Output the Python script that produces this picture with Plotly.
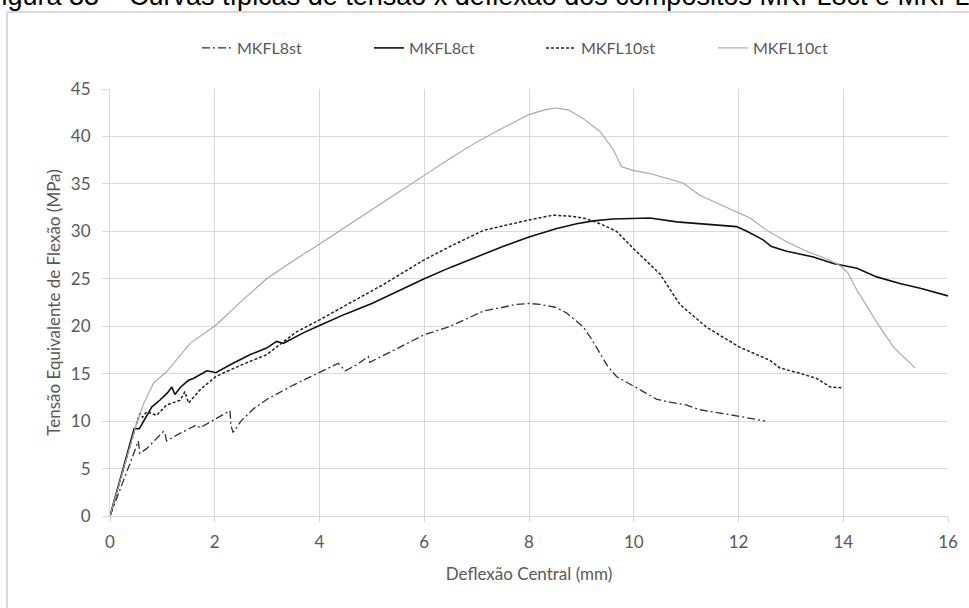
import plotly.graph_objects as go

# Deflexão central (mm) x tensão equivalente de flexão (MPa)
mkfl8st_x = [0, 0.2, 0.4, 0.54, 0.57, 0.7, 0.85, 1.02, 1.05, 1.08, 1.3, 1.5, 1.65, 1.72, 1.9, 2.1,
             2.29, 2.31, 2.35, 2.5, 2.74, 3.0, 3.5, 4.01, 4.36, 4.49, 4.7, 4.93, 4.96, 5.5, 6.0, 6.5,
             7.13, 7.5, 7.76, 8.0, 8.21, 8.5, 8.72, 9.04, 9.2, 9.36, 9.5, 9.67, 10.02, 10.44, 10.69,
             11.0, 11.26, 11.6, 12.02, 12.51]
mkfl8st_y = [0, 2.8, 5.8, 7.9, 6.6, 7.1, 7.9, 8.9, 8.7, 7.9, 8.6, 9.2, 9.6, 9.3, 9.9, 10.5,
             11.1, 9.5, 8.8, 10.0, 11.3, 12.3, 13.8, 15.2, 16.1, 15.3, 15.9, 16.8, 16.2, 17.7, 19.1, 20.0,
             21.6, 22.0, 22.3, 22.4, 22.3, 22.0, 21.4, 19.9, 18.6, 17.1, 15.8, 14.7, 13.6, 12.3, 12.0,
             11.7, 11.2, 10.9, 10.5, 10.0]

mkfl8ct_x = [0, 0.46, 0.56, 0.67, 0.8, 0.95, 1.1, 1.18, 1.24, 1.35, 1.5, 1.59, 1.85, 1.95, 2.02,
             2.35, 2.67, 2.99, 3.18, 3.31, 3.45, 3.69, 4.01, 4.5, 5.0, 5.5, 6.0, 6.5, 7.0, 7.5, 8.0,
             8.53, 8.91, 9.23, 9.6, 10.01, 10.31, 10.82, 11.26, 11.58, 11.96, 12.16, 12.47, 12.63,
             12.92, 13.43, 13.81, 14.26, 14.64, 15.08, 15.47, 16.0]
mkfl8ct_y = [0, 9.2, 9.2, 10.3, 11.5, 12.2, 13.0, 13.6, 12.8, 13.6, 14.3, 14.5, 15.3, 15.2, 15.1,
             16.1, 17.0, 17.7, 18.4, 18.2, 18.6, 19.3, 20.1, 21.3, 22.4, 23.7, 25.0, 26.2, 27.3, 28.4, 29.4,
             30.3, 30.8, 31.1, 31.3, 31.4, 31.4, 31.0, 30.8, 30.7, 30.5, 30.0, 29.1, 28.4,
             27.9, 27.3, 26.6, 26.1, 25.2, 24.5, 24.0, 23.2]

mkfl10st_x = [0, 0.41, 0.51, 0.57, 0.62, 0.7, 0.89, 1.08, 1.34, 1.43, 1.47, 1.5, 1.72, 2.02, 2.5,
              2.99, 3.44, 3.56, 4.01, 4.5, 4.9, 5.22, 6.0, 6.49, 7.13, 7.5, 8.0, 8.46, 8.8, 9.04,
              9.36, 9.67, 10.01, 10.5, 10.88, 11.39, 12.02, 12.6, 12.79, 13.2, 13.49, 13.75, 14.0]
mkfl10st_y = [0, 8.0, 9.8, 10.8, 10.4, 11.0, 10.6, 11.7, 12.2, 13.1, 12.5, 11.9, 13.3, 14.7, 15.9,
              17.0, 18.9, 19.4, 20.7, 22.2, 23.5, 24.4, 27.0, 28.4, 30.1, 30.6, 31.2, 31.7, 31.6, 31.4,
              30.8, 30.0, 28.1, 25.5, 22.3, 19.9, 17.8, 16.4, 15.6, 15.0, 14.5, 13.6, 13.5]

mkfl10ct_x = [0, 0.3, 0.51, 0.64, 0.83, 1.08, 1.3, 1.53, 2.02, 2.5, 2.99, 3.5, 4.01, 4.5, 5.0, 5.5,
              6.0, 6.5, 7.0, 7.5, 8.0, 8.3, 8.5, 8.75, 9.03, 9.36, 9.61, 9.77, 10.0, 10.31, 10.94,
              11.26, 11.46, 12.0, 12.22, 12.54, 12.92, 13.3, 13.68, 13.94, 14.09, 14.26, 14.45, 14.7,
              14.96, 15.37]
mkfl10ct_y = [0, 5.7, 9.8, 11.8, 14.0, 15.2, 16.7, 18.2, 20.1, 22.6, 25.0, 26.9, 28.7, 30.5, 32.3, 34.1,
              35.9, 37.7, 39.4, 40.9, 42.3, 42.8, 43.0, 42.8, 41.9, 40.5, 38.6, 36.8, 36.4, 36.1, 35.1,
              33.8, 33.3, 31.9, 31.4, 30.1, 28.9, 27.9, 27.1, 26.4, 25.6, 23.8, 22.1, 19.9,
              17.8, 15.6]

x_ticks = [0, 2, 4, 6, 8, 10, 12, 14, 16]
y_ticks = [0, 5, 10, 15, 20, 25, 30, 35, 40, 45]

W, H = 969, 608
ML, MR, MT, MB = 110, 21, 89, 92
PW, PH = W - ML - MR, H - MT - MB


def px_x(p):
    return (p - ML) / PW


def px_y(p):
    return (H - MB - p) / PH


FONT = "Lato, 'Open Sans', sans-serif"
GRID = "#d9d9d9"
TXT = "#595959"

fig = go.Figure()
fig.add_trace(go.Scatter(x=mkfl8st_x, y=mkfl8st_y, name="MKFL8st", mode="lines",
                         line=dict(color="#333333", width=1.3, dash="8px,3px,2px,3px")))
fig.add_trace(go.Scatter(x=mkfl8ct_x, y=mkfl8ct_y, name="MKFL8ct", mode="lines",
                         line=dict(color="#111111", width=1.6)))
fig.add_trace(go.Scatter(x=mkfl10st_x, y=mkfl10st_y, name="MKFL10st", mode="lines",
                         line=dict(color="#222222", width=1.5, dash="3px,2px")))
fig.add_trace(go.Scatter(x=mkfl10ct_x, y=mkfl10ct_y, name="MKFL10ct", mode="lines",
                         line=dict(color="#a6a6a6", width=1.1)))

fig.update_layout(
    width=W, height=H, autosize=False,
    margin=dict(l=ML, r=MR, t=MT, b=MB),
    paper_bgcolor="white", plot_bgcolor="white",
    font=dict(family=FONT, color=TXT, size=17),
    showlegend=True,
    legend=dict(orientation="h", x=px_x(197), y=px_y(48), xanchor="left", yanchor="middle",
                font=dict(size=16, color=TXT), entrywidth=127, entrywidthmode="pixels",
                bgcolor="rgba(0,0,0,0)"),
    xaxis=dict(range=[0, 16], tickvals=x_ticks, showgrid=True, gridcolor=GRID, gridwidth=1,
               zeroline=False, showline=True, linecolor=GRID, linewidth=1,
               ticks="outside", ticklen=5, tickcolor=GRID, ticklabelstandoff=6,
               tickfont=dict(size=17, color=TXT),
               title=dict(text="Deflexão Central (mm)", font=dict(size=17, color=TXT), standoff=16)),
    yaxis=dict(range=[0, 45], tickvals=y_ticks, showgrid=True, gridcolor=GRID, gridwidth=1,
               zeroline=False, showline=True, linecolor=GRID, linewidth=1,
               ticks="outside", ticklen=7, tickcolor=GRID, ticklabelstandoff=8,
               tickfont=dict(size=17, color=TXT),
               title=dict(text="Tensão Equivalente de Flexão (MPa)",
                          font=dict(size=17, color=TXT), standoff=5)),
)

# chart frame (top and left edges)
fig.add_shape(type="line", xref="paper", yref="paper",
              x0=px_x(7), x1=px_x(990), y0=px_y(12), y1=px_y(12),
              line=dict(color=GRID, width=2))
fig.add_shape(type="line", xref="paper", yref="paper",
              x0=px_x(7), x1=px_x(7), y0=px_y(12), y1=px_y(640),
              line=dict(color=GRID, width=2))

# figure caption above the chart
fig.add_annotation(text="Figura 33 – Curvas típicas de tensão x deflexão dos compósitos MKFL8ct e MKFL10ct",
                   xref="paper", yref="paper", x=px_x(-17), y=px_y(13.5),
                   xanchor="left", yanchor="bottom", showarrow=False,
                   font=dict(family="Liberation Sans, Arial, sans-serif", size=27, color="black"))

fig.write_html("out.html")
